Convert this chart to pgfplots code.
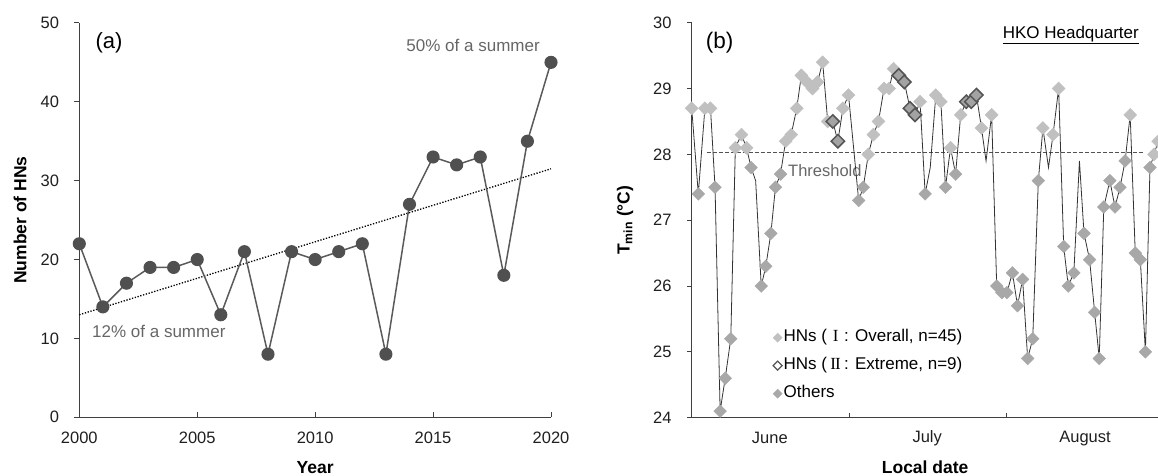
\documentclass[border=0pt]{standalone}
\usepackage{pgfplots}
\pgfplotsset{compat=1.18}
\usepackage{pgfplotstable}
\usepackage{fontspec}
\setmainfont{Liberation Sans}
\newfontfamily\numfont{Liberation Serif}
\newcommand{\romI}{\makebox[1em]{\numfont I}}
\newcommand{\romII}{\makebox[1em]{\numfont I\kern-0.06em I}}

\definecolor{ptA}{HTML}{505050}
\definecolor{lineA}{HTML}{5A5A5A}
\definecolor{hnOne}{HTML}{C0C0C0}
\definecolor{hnOther}{HTML}{A8A8A8}
\definecolor{hnTwoFill}{HTML}{A3A3A3}
\definecolor{hnTwoEdge}{HTML}{555555}
\definecolor{axisgray}{HTML}{404040}
\definecolor{annot}{HTML}{666666}

% daily minimum temperature, HKO Headquarters
% g: 0 = no marker, 1 = HN (overall), 2 = HN (extreme), 3 = others
\pgfplotstableread{
m v g
0.0 28.7 1
1.3 27.4 3
2.6 28.7 1
3.7 28.7 1
4.6 27.5 3
5.6 24.1 3
6.6 24.6 3
7.7 25.2 3
8.6 28.1 1
9.8 28.3 1
10.8 28.1 1
11.7 27.8 3
12.6 27.6 0
13.7 26.0 3
14.6 26.3 3
15.6 26.8 3
16.5 27.5 3
17.5 27.7 3
18.5 28.2 1
19.6 28.3 1
20.7 28.7 1
21.6 29.2 1
22.7 29.1 1
23.8 29.0 1
24.8 29.1 1
25.8 29.4 1
26.8 28.5 1
27.8 28.5 2
28.8 28.2 2
29.8 28.7 1
30.9 28.9 1
32.9 27.3 3
33.8 27.5 3
34.8 28.0 1
35.8 28.3 1
36.8 28.5 1
37.9 29.0 1
38.9 29.0 1
39.8 29.3 1
40.8 29.2 2
41.9 29.1 2
43.0 28.7 2
44.0 28.6 2
45.0 28.8 1
46.0 27.4 3
47.0 27.8 0
48.1 28.9 1
49.1 28.8 1
50.0 27.5 3
51.0 28.1 1
52.0 27.7 3
53.0 28.6 1
54.1 28.8 2
55.1 28.8 2
56.1 28.9 2
57.1 28.4 1
58.0 27.9 0
59.1 28.6 1
60.1 26.0 3
61.1 25.9 3
62.1 25.9 3
63.2 26.2 3
64.2 25.7 3
65.2 26.1 3
66.2 24.9 3
67.2 25.2 3
68.3 27.6 3
69.2 28.4 1
70.3 27.8 0
71.2 28.3 1
72.3 29.0 1
73.3 26.6 3
74.2 26.0 3
75.3 26.2 3
76.4 27.9 0
77.3 26.8 3
78.4 26.4 3
79.4 25.6 3
80.3 24.9 3
81.2 27.2 3
82.4 27.6 3
83.4 27.2 3
84.4 27.5 3
85.4 27.9 3
86.4 28.6 1
87.4 26.5 3
88.4 26.4 3
89.4 25.0 3
90.3 27.8 3
91.1 28.0 1
91.9 28.2 1
}\tmin

\pgfplotsset{
  panel/.style={
    scale only axis,
    axis lines=left,
    axis line style={-, draw=axisgray, line width=1.2pt},
    tick style={draw=axisgray, line width=1pt},
    major tick length=5pt,
    xtick align=inside,
    ytick align=outside,
    tick label style={font=\fontsize{16.5}{18}\selectfont, text=black!88},
    /pgf/number format/assume math mode=true,
    /pgf/number format/1000 sep={},
    xticklabel style={anchor=center, yshift=-20.7pt},
    yticklabel style={anchor=east, inner sep=0pt, xshift=-15pt},
    label style={font=\bfseries\fontsize{17.5}{20}\selectfont, text=black},
    clip=false,
  },
  diamond marks/.style 2 args={only marks, mark=square*, mark size=#1,
    mark options={rotate=45, #2}},
}

\begin{document}
\begin{tikzpicture}
\useasboundingbox (0pt,0pt) rectangle (1158pt,476pt);

% ---------- (a) yearly number of hot nights ----------
\begin{axis}[panel,
  at={(79.3pt,58.7pt)}, anchor=south west,
  width=471.7pt, height=394.4pt,
  xmin=2000, xmax=2020, ymin=0, ymax=50,
  xtick={2000,2005,...,2020}, ytick={0,10,...,50},
  xlabel={Year}, ylabel={Number of HNs},
  xlabel style={at={(axis description cs:0.5,-0.1285)}, anchor=center},
  ylabel style={at={(axis description cs:-0.1257,0.5)}, anchor=center},
]
\addplot[black, line width=1.3pt, dash pattern=on 1.3pt off 1.6pt] coordinates {(2000,13.0) (2020,31.5)};
\addplot[lineA, line width=1.5pt, mark=*, mark size=5.8pt, mark options={fill=ptA, draw=ptA}]
  coordinates {
  (2000,22) (2001,14) (2002,17) (2003,19) (2004,19) (2005,20) (2006,13)
  (2007,21) (2008,8) (2009,21) (2010,20) (2011,21) (2012,22) (2013,8)
  (2014,27) (2015,33) (2016,32) (2017,33) (2018,18) (2019,35) (2020,45)};
\node[font=\fontsize{22}{24}\selectfont, inner sep=0pt] at (axis cs:2001.26,47.45) {(a)};
\node[text=annot, font=\fontsize{17}{19}\selectfont, anchor=west, inner sep=0pt] at (axis cs:2000.54,10.85) {12\% of a summer};
\node[text=annot, font=\fontsize{17}{19}\selectfont, anchor=east, inner sep=0pt] at (axis cs:2019.53,47.2) {50\% of a summer};
\end{axis}

% ---------- (b) summer daily Tmin ----------
\begin{axis}[panel,
  at={(691.7pt,58.3pt)}, anchor=south west,
  width=466.9pt, height=395pt,
  xmin=0, xmax=92, ymin=24, ymax=30,
  ytick={24,25,...,30},
  xtick={31,62}, xticklabels={},
  extra x ticks={15.4,46.4,77.5},
  extra x tick labels={June,July,August},
  extra x tick style={major tick length=0pt},
  xlabel={Local date}, ylabel={T\textsubscript{min} (°C)},
  xlabel style={at={(axis description cs:0.5,-0.1266)}, anchor=center},
  ylabel style={at={(axis description cs:-0.1429,0.5)}, anchor=center},
  legend style={at={(axis cs:16.0,25.34)}, anchor=north west, draw=none, fill=none,
    font=\fontsize{17}{19}\selectfont, row sep=12pt, inner sep=0pt,
    nodes={inner sep=0pt, text height=12pt, text depth=4pt},
    /tikz/every odd column/.append style={column sep=1.5pt}},
  legend cell align=left,
]
\addplot[forget plot, draw=black!68, line width=1.2pt, dash pattern=on 4pt off 2pt]
  coordinates {(2.96,28.03) (88.9,28.03)};
\node[text=annot, font=\fontsize{16.5}{18}\selectfont, anchor=west, inner sep=0pt] at (axis cs:18.97,27.76) {Threshold};
\addplot[forget plot, draw=black!80, line width=0.8pt] table[x=m, y=v] {\tmin};
\addplot[forget plot, diamond marks={4.6pt}{fill=hnOne, draw=hnOne},
  restrict expr to domain={\thisrow{g}}{0.5:1.5}]
  table[x=m, y=v] {\tmin};
\addplot[forget plot, diamond marks={4.5pt}{fill=hnOther, draw=hnOther},
  restrict expr to domain={\thisrow{g}}{2.5:3.5}]
  table[x=m, y=v] {\tmin};
\addplot[forget plot, diamond marks={4.7pt}{fill=hnTwoFill, draw=hnTwoEdge, line width=1.5pt},
  restrict expr to domain={\thisrow{g}}{1.5:2.5}]
  table[x=m, y=v] {\tmin};

\addlegendimage{diamond marks={3.2pt}{fill=hnOne, draw=hnOne}}
\addlegendentry{HNs (\romI: Overall, n=45)}
\addlegendimage{diamond marks={3.2pt}{fill=white, draw=hnTwoEdge, line width=1.2pt}}
\addlegendentry{HNs (\romII: Extreme, n=9)}
\addlegendimage{diamond marks={3.2pt}{fill=hnOther, draw=hnOther}}
\addlegendentry{Others}

\node[font=\fontsize{22.5}{24}\selectfont, inner sep=0pt] at (axis cs:5.5,29.69) {(b)};
\node[font=\fontsize{17}{19}\selectfont, inner sep=0pt] at (axis cs:74.7,29.81) {\underline{HKO Headquarter}};
\end{axis}
\end{tikzpicture}
\end{document}
